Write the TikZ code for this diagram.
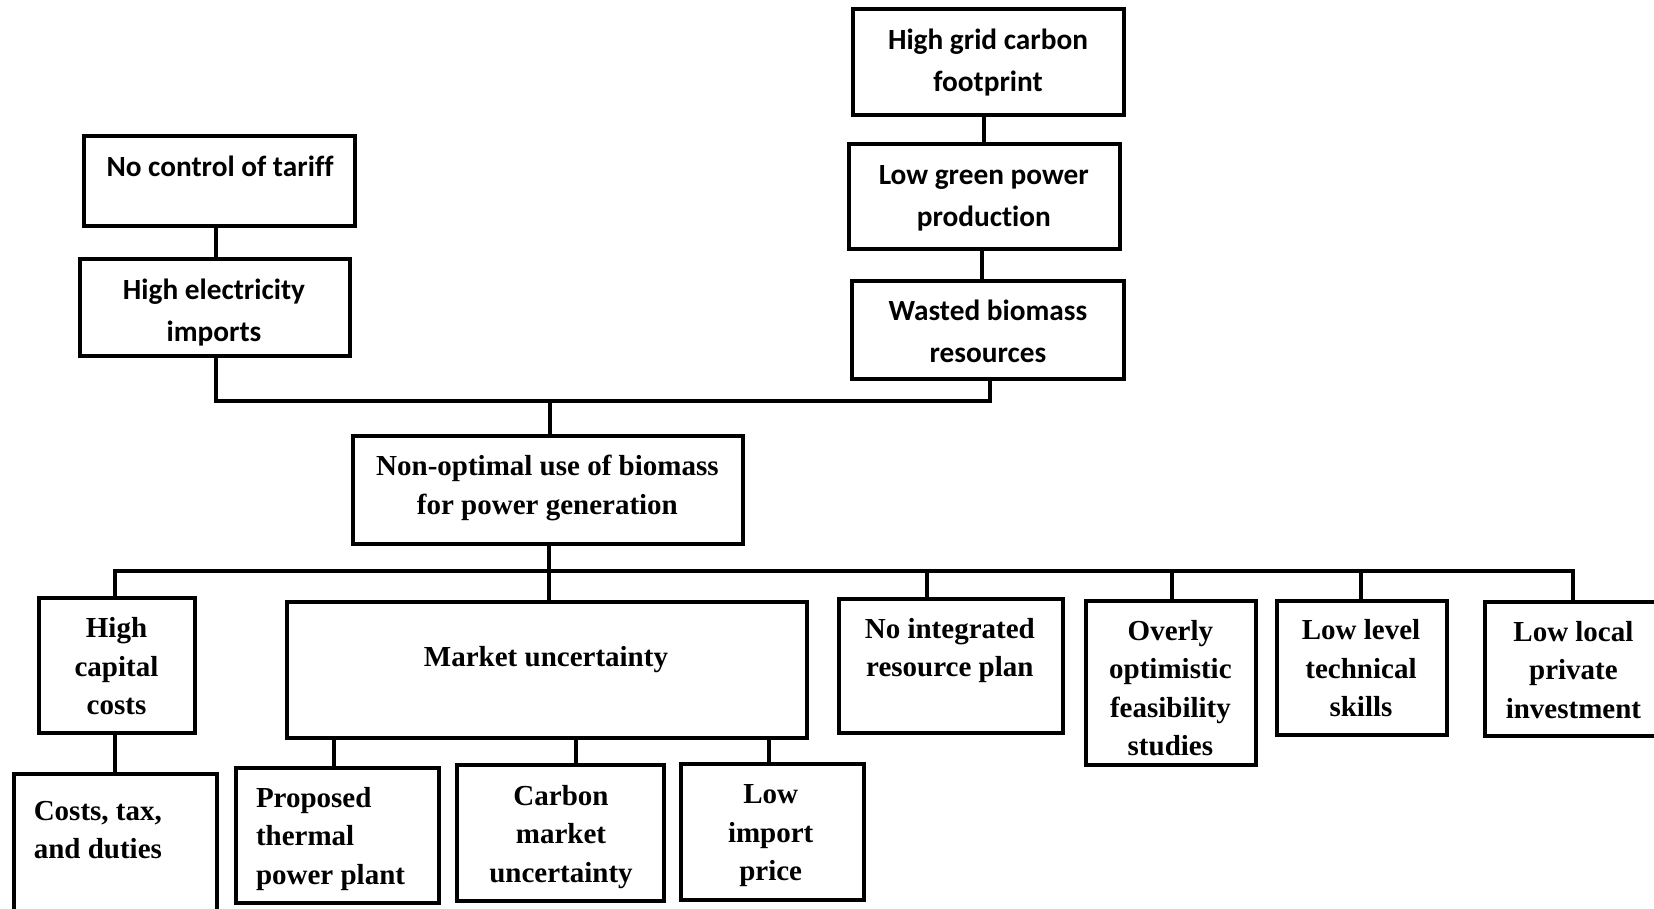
\documentclass[tikz,border=0pt]{standalone}
\usepackage{fontspec}
\setmainfont{Liberation Serif}
\newfontfamily\calib[Ligatures=NoCommon]{Carlito}
\begin{document}
\begin{tikzpicture}[x=1pt,y=-1pt,
  box/.style={draw, line width=4pt, inner sep=0pt, anchor=north west, line join=miter},
  wire/.style={line width=4pt, line join=miter},
  toptxt/.style={font=\calib\bfseries\fontsize{29.3}{42}\selectfont, align=center, inner sep=0pt},
  lowtxt/.style={font=\bfseries\fontsize{29}{38.5}\selectfont, align=center, inner sep=0pt},
  lefttxt/.style={font=\bfseries\fontsize{29}{38.5}\selectfont, align=left, inner sep=0pt, anchor=west}]
\useasboundingbox[fill=white] (0,0) rectangle (1654,909);

% upper chains
\node[box, minimum width=271pt, minimum height=89.7pt] (b1) at (82.4,134) {};
\node[box, minimum width=270.5pt, minimum height=97pt] (b2) at (77.5,257) {};
\node[box, minimum width=271pt, minimum height=106.3pt] (b3) at (850.6,6.7) {};
\node[box, minimum width=270.4pt, minimum height=105.3pt] (b4) at (847.4,141.7) {};
\node[box, minimum width=271.6pt, minimum height=98.3pt] (b5) at (850,278.7) {};

\node[toptxt] (t1) at (220,166.3) {No control of tariff};
\node[toptxt] (t2) at (214,312.5) {High electricity\\imports};
\node[toptxt] (t3) at (988,62.9) {High grid carbon\\footprint};
\node[toptxt] (t4) at (983.8,198.1) {Low green power\\production};
\node[toptxt] (t5) at (987.9,331.6) {Wasted biomass\\resources};

% central problem
\node[box, minimum width=390pt, minimum height=108pt] (b6) at (351,434) {};
\node[lowtxt] (t6) at (547.4,487.8) {Non-optimal use of biomass\\for power generation};

% causes
\node[box, minimum width=156pt, minimum height=135.3pt] (b7) at (36.9,595.7) {};
\node[box, minimum width=520pt, minimum height=135.7pt] (b8) at (284.6,600.3) {};
\node[box, minimum width=224.5pt, minimum height=134.3pt] (b9) at (836.5,596.7) {};
\node[box, minimum width=170pt, minimum height=163.7pt] (b10) at (1084.3,599) {};
\node[box, minimum width=170pt, minimum height=133.7pt] (b11) at (1275,599) {};
\node[box, minimum width=178.5pt, minimum height=134pt] (b12) at (1482.5,600.3) {};

\node[lowtxt] (t7) at (116.5,666.5) {High\\capital\\costs};
\node[lowtxt] (t8) at (546,660) {Market uncertainty};
\node[lowtxt] (t9) at (949.8,650.5) {No integrated\\resource plan};
\node[lowtxt] (t10) at (1170.4,688) {Overly\\optimistic\\feasibility\\studies};
\node[lowtxt] (t11) at (1361,668.5) {Low level\\technical\\skills};
\node[lowtxt] (t12) at (1573.4,669.7) {Low local\\private\\investment};

% sub-causes
\node[box, minimum width=203.5pt, minimum height=144.3pt] (b13) at (11.9,771.7) {};
\node[box, minimum width=203pt, minimum height=135.3pt] (b14) at (234,765.7) {};
\node[box, minimum width=206.5pt, minimum height=136pt] (b15) at (455.3,763.3) {};
\node[box, minimum width=183pt, minimum height=135.4pt] (b16) at (679,762.3) {};

\node[lefttxt] (t13) at (33.6,830) {Costs, tax,\\and duties};
\node[lefttxt] (t14) at (255.8,838.8) {Proposed\\thermal\\power plant};
\node[lowtxt] (t15) at (561,837) {Carbon\\market\\uncertainty};
\node[lowtxt] (t16) at (770.7,836) {Low\\import\\price};

% connectors of the upper chains
\coordinate (k1) at (215.7,0);
\coordinate (k3) at (984,0);
\coordinate (k4) at (982,0);
\coordinate (k5) at (990,0);
\draw[wire] (k1 |- b1.south) -- (k1 |- b2.north);
\draw[wire] (k3 |- b3.south) -- (k3 |- b4.north);
\draw[wire] (k4 |- b4.south) -- (k4 |- b5.north);
\coordinate (j1) at (550,400.5);
\draw[wire] (k1 |- b2.south) |- (j1 -| k5) -- (k5 |- b5.south);
\draw[wire] (j1) -- (j1 |- b6.north);

% bus below the central problem
\coordinate (j2) at (549,570.7);
\coordinate (d7) at (115.4,570.7);
\coordinate (d9) at (927,570.7);
\coordinate (d10) at (1172,570.7);
\coordinate (d11) at (1361,570.7);
\coordinate (d12) at (1573.4,570.7);
\draw[wire] (j2 |- b6.south) -- (j2);
\draw[wire] (d7 |- b7.north) -- (d7) -- (d12) -- (d12 |- b12.north);
\draw[wire] (j2) -- (j2 |- b8.north);
\draw[wire] (d9) -- (d9 |- b9.north);
\draw[wire] (d10) -- (d10 |- b10.north);
\draw[wire] (d11) -- (d11 |- b11.north);

% connectors to the sub-causes
\draw[wire] (d7 |- b7.south) -- (d7 |- b13.north);
\coordinate (c14) at (334.4,740);
\coordinate (c15) at (576,740);
\coordinate (c16) at (768.6,740);
\draw[wire] (c14 |- b8.south) -- (c14 |- b14.north);
\draw[wire] (c15 |- b8.south) -- (c15 |- b15.north);
\draw[wire] (c16 |- b8.south) -- (c16 |- b16.north);
\end{tikzpicture}
\end{document}
